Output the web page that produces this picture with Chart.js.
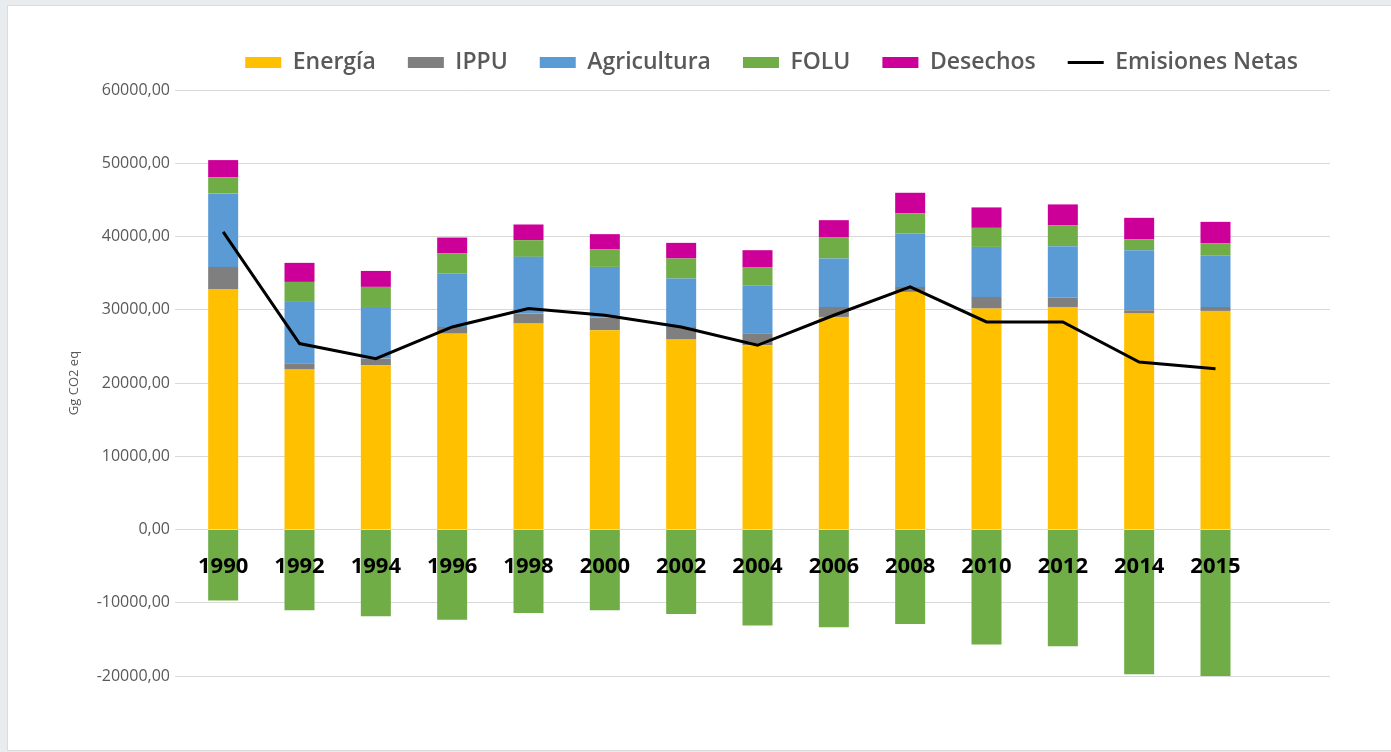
<!DOCTYPE html>
<html lang="es">
<head>
<meta charset="utf-8">
<title>Emisiones GEI</title>
<script src="https://cdn.jsdelivr.net/npm/chart.js@4/dist/chart.umd.min.js"></script>
<style>
    html, body {
        margin: 0;
        padding: 0;
        width: 1391px;
        height: 752px;
        overflow: hidden;
        background: #e9ecee;
    }
    .panel {
        position: absolute;
        left: 7px;
        top: 5px;
        width: 1384px;
        height: 744px;
        background: #ffffff;
        border-top: 1px solid #dcdcdc;
        border-left: 1px solid #dcdcdc;
        border-bottom: 1px solid #dcdcdc;
    }
    .chartBox {
        position: absolute;
        left: 0;
        top: 0;
        width: 1391px;
        height: 752px;
    }
</style>
</head>
<body>
<div class="panel"></div>
<div class="chartBox"><canvas id="emisionesChart"></canvas></div>

<script>
const years = ["1990", "1992", "1994", "1996", "1998", "2000", "2002",
               "2004", "2006", "2008", "2010", "2012", "2014", "2015"];

// Gg CO2 eq
const energia     = [32760, 21830, 22410, 26740, 28110, 27200, 25930, 25150, 29020, 32440, 30160, 30380, 29480, 29840];
const ippu        = [3090, 810, 920, 910, 1370, 1730, 1720, 1590, 1360, 680, 1590, 1290, 450, 540];
const agricultura = [10030, 8430, 7050, 7290, 7740, 6920, 6610, 6610, 6620, 7290, 6830, 7010, 8200, 7070];
const foluEmis    = [2190, 2730, 2740, 2740, 2280, 2380, 2740, 2410, 2860, 2740, 2600, 2870, 1500, 1600];
const desechos    = [2360, 2600, 2180, 2180, 2140, 2090, 2130, 2370, 2370, 2820, 2790, 2830, 2920, 2950];
const foluAbs     = [-9690, -11040, -11860, -12310, -11400, -11040, -11530, -13120, -13350, -12890, -15700, -15930, -19770, -20000];
const emisionesNetas = [40630, 25380, 23330, 27650, 30160, 29250, 27650, 25150, 29250, 33120, 28330, 28330, 22870, 21960];

// the original axis has one empty slot after 2015
const labels = [...years, ""];

const yMin = -20000;
const yMax = 60000;
const yStep = 10000;

const barStyle = {
    type: "bar",
    borderWidth: 0,
    barPercentage: 1,
    categoryPercentage: 0.393
};

// legend needs a bit more room below it than Chart.js gives
const legendRoom = {
    id: "legendRoom",
    beforeLayout(chart) {
        const legend = chart.legend;
        if (legend && !legend._roomPatched) {
            const fit = legend.fit;
            legend.fit = function () {
                fit.call(this);
                this.height += 6;
            };
            legend._roomPatched = true;
        }
    }
};

const ctx = document.getElementById("emisionesChart").getContext("2d");

new Chart(ctx, {

    data: {
        labels: labels,
        datasets: [
            { ...barStyle, label: "Energía", data: energia, backgroundColor: "#FFC000" },
            { ...barStyle, label: "IPPU", data: ippu, backgroundColor: "#7F7F7F" },
            { ...barStyle, label: "Agricultura", data: agricultura, backgroundColor: "#5B9BD5" },
            { ...barStyle, label: "FOLU", data: foluEmis, backgroundColor: "#70AD47" },
            { ...barStyle, label: "Desechos", data: desechos, backgroundColor: "#CC0099" },
            {
                type: "line",
                label: "Emisiones Netas",
                data: emisionesNetas,
                borderColor: "#000000",
                backgroundColor: "#000000",
                borderWidth: 3,
                pointRadius: 0,
                tension: 0,
                order: -1
            },
            { ...barStyle, label: "FOLU absorciones", data: foluAbs, backgroundColor: "#70AD47", hideInLegend: true }
        ]
    },

    options: {
        responsive: true,
        maintainAspectRatio: false,
        animation: false,

        layout: {
            padding: { top: 19, right: 61, bottom: 76, left: 0 }
        },

        plugins: {
            tooltip: { enabled: false },
            legend: {
                position: "top",
                align: "end",
                fullSize: false,
                labels: {
                    usePointStyle: true,
                    pointStyleWidth: 36,
                    boxHeight: 11,
                    padding: 32,
                    color: "#595959",
                    font: { family: "'Open Sans', sans-serif", size: 23, weight: "600" },
                    sort: (a, b) => a.datasetIndex - b.datasetIndex,
                    filter: (item, data) => !data.datasets[item.datasetIndex].hideInLegend,
                    generateLabels(chart) {
                        const items = Chart.defaults.plugins.legend.labels.generateLabels(chart);
                        items.forEach((item) => {
                            const ds = chart.data.datasets[item.datasetIndex];
                            item.pointStyle = ds.type === "line" ? "line" : "rect";
                        });
                        return items;
                    }
                }
            }
        },

        scales: {
            x: {
                stacked: true,
                position: { y: 0 },
                grid: { display: false, drawTicks: false },
                border: { display: false },
                ticks: {
                    z: 1,
                    color: "#000000",
                    padding: 24,
                    maxRotation: 0,
                    autoSkip: false,
                    font: { family: "'Open Sans', sans-serif", size: 22, weight: "bold" }
                }
            },
            y: {
                stacked: true,
                min: yMin,
                max: yMax,
                afterFit(scale) {
                    scale.width = 185;
                },
                grid: {
                    color: "#d9d9d9",
                    lineWidth: 1,
                    tickLength: 10
                },
                border: { display: false },
                ticks: {
                    stepSize: yStep,
                    padding: 5,
                    color: "#595959",
                    font: { family: "'Open Sans', sans-serif", size: 16 },
                    callback: (value) => value.toFixed(2).replace(".", ",")
                },
                title: {
                    display: true,
                    text: "Gg CO2 eq",
                    color: "#595959",
                    padding: { top: 66, bottom: 0 },
                    font: { family: "'Open Sans', sans-serif", size: 13 }
                }
            }
        }
    },

    plugins: [legendRoom]
});
</script>
</body>
</html>
